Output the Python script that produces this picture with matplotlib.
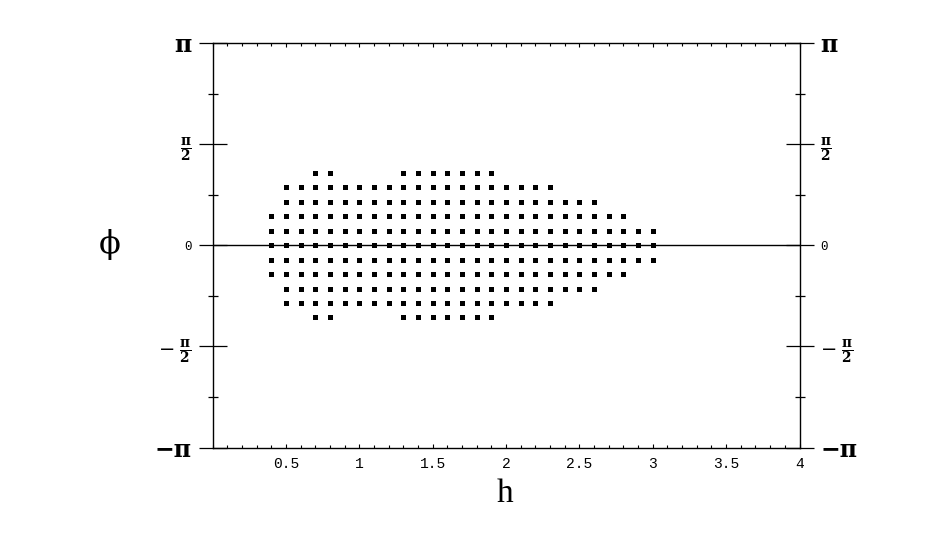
import numpy as np
import matplotlib
matplotlib.use("Agg")
import matplotlib.pyplot as plt
from matplotlib.ticker import MultipleLocator, FixedLocator

# Data: grid of points (h, phi); phi in units of pi/14
row_k = [5, 4, 3, 2, 1, 0, -1, -2, -3, -4, -5]
row_h = [
    [0.7, 0.8, 1.3, 1.4, 1.5, 1.6, 1.7, 1.8, 1.9],
    [round(0.5 + 0.1 * i, 1) for i in range(19)],   # 0.5 .. 2.3
    [round(0.5 + 0.1 * i, 1) for i in range(22)],   # 0.5 .. 2.6
    [round(0.4 + 0.1 * i, 1) for i in range(25)],   # 0.4 .. 2.8
    [round(0.4 + 0.1 * i, 1) for i in range(27)],   # 0.4 .. 3.0
    [round(0.4 + 0.1 * i, 1) for i in range(27)],   # 0.4 .. 3.0
    [round(0.4 + 0.1 * i, 1) for i in range(27)],   # 0.4 .. 3.0
    [round(0.4 + 0.1 * i, 1) for i in range(25)],   # 0.4 .. 2.8
    [round(0.5 + 0.1 * i, 1) for i in range(22)],   # 0.5 .. 2.6
    [round(0.5 + 0.1 * i, 1) for i in range(19)],   # 0.5 .. 2.3
    [0.7, 0.8, 1.3, 1.4, 1.5, 1.6, 1.7, 1.8, 1.9],
]
x_ticks = [0.5, 1, 1.5, 2, 2.5, 3, 3.5, 4]
x_labels = ["0.5", "1", "1.5", "2", "2.5", "3", "3.5", "4"]
y_ticks = [-np.pi, -np.pi / 2, 0, np.pi / 2, np.pi]
y_labels = ["−π", r"$-\;\frac{\mathbf{\pi}}{\mathbf{2}}$", "0", r"$\frac{\mathbf{\pi}}{\mathbf{2}}$", "π"]

plt.rcParams['mathtext.fontset'] = 'dejavuserif'

fig = plt.figure(figsize=(9.26, 5.39), dpi=100)
ax = fig.add_axes([212.5 / 926, 1 - 447.5 / 539, (799.5 - 212.5) / 926, (447.5 - 43) / 539])

hs, ps = [], []
for k, row in zip(row_k, row_h):
    for h in row:
        hs.append(h)
        ps.append(k * np.pi / 14)
ax.plot(hs, ps, 's', color='black', markersize=3.6, markeredgewidth=0)

ax.axhline(0, color='black', lw=1.0, zorder=1)

ax.set_xlim(0, 4)
ax.set_ylim(-np.pi, np.pi)

for s in ax.spines.values():
    s.set_linewidth(1.0)

ax.xaxis.set_major_locator(FixedLocator(x_ticks))
ax.xaxis.set_minor_locator(MultipleLocator(0.1))
ax.set_xticklabels(x_labels, family='Liberation Mono', fontsize=10.5)
ax.tick_params(axis='x', which='major', direction='in', length=3, width=0.8,
               top=True, bottom=True, pad=7)
ax.tick_params(axis='x', which='minor', direction='in', length=2, width=0.8,
               top=True, bottom=True)

ax.yaxis.set_major_locator(FixedLocator(y_ticks))
ax.yaxis.set_minor_locator(FixedLocator([-3 * np.pi / 4, -np.pi / 4, np.pi / 4, 3 * np.pi / 4]))
ax.set_yticklabels(y_labels)
ax.tick_params(axis='y', which='major', direction='inout', length=20, width=0.9,
               left=True, right=True, labelleft=True, labelright=True, pad=5)
ax.tick_params(axis='y', which='minor', direction='inout', length=7, width=0.9,
               left=True, right=True)

sizes = [17, 14, 9, 14, 17]
for tick, sz, lab in zip(ax.yaxis.get_major_ticks(), sizes, y_labels):
    for t in (tick.label1, tick.label2):
        t.set_fontsize(sz)
        if lab == "0":
            t.set_family('Liberation Mono')
        elif not lab.startswith("$"):
            t.set_family('DejaVu Serif')
            t.set_fontweight('bold')

fig.text(110 / 926, 1 - 245 / 539, "ϕ", family='DejaVu Serif', fontsize=23,
         ha='center', va='center')
fig.text(505 / 926, 1 - 494 / 539, "h", family='Liberation Serif', fontsize=24,
         ha='center', va='center')

fig.savefig("out.png", dpi=100)
